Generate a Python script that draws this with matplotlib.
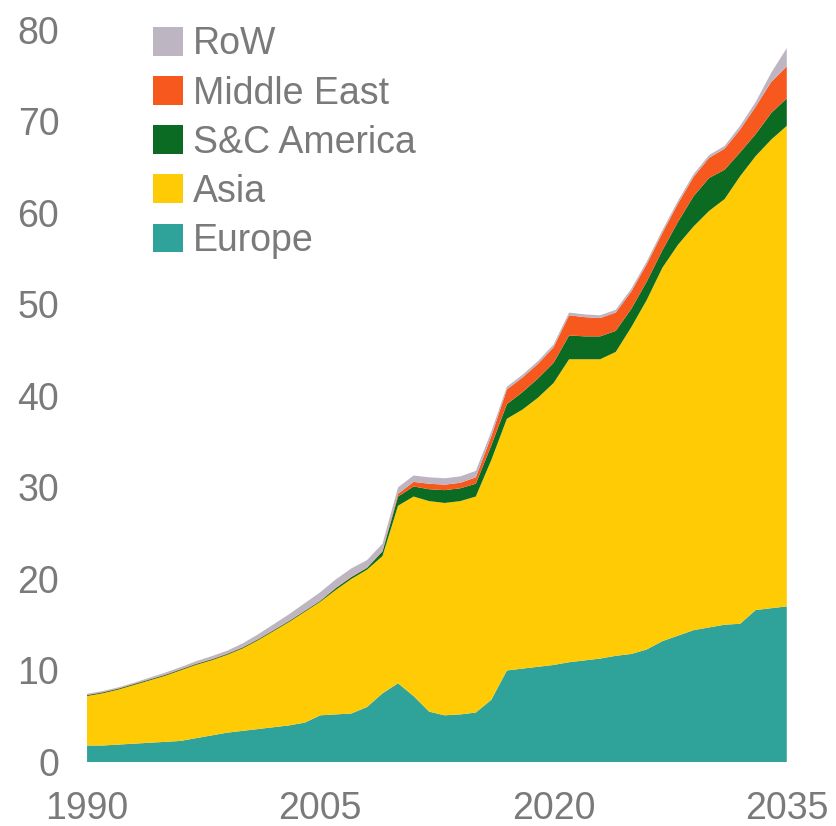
import matplotlib.pyplot as plt
import numpy as np

plt.rcParams['font.family'] = ['Liberation Sans', 'DejaVu Sans']

years = np.arange(1990, 2036)

# stacked values, bottom to top
europe = [1.8, 1.8, 1.9, 2.0, 2.1, 2.2, 2.3, 2.6, 2.9, 3.2,
          3.4, 3.6, 3.8, 4.0, 4.3, 5.1, 5.2, 5.3, 6.0, 7.5,
          8.6, 7.2, 5.5, 5.1, 5.2, 5.4, 6.8, 10.0, 10.2, 10.4,
          10.6, 10.9, 11.1, 11.3, 11.6, 11.8, 12.3, 13.2, 13.8, 14.4,
          14.7, 15.0, 15.1, 16.6, 16.8, 17.0]
asia_top = [7.2, 7.5, 7.9, 8.4, 8.9, 9.4, 10.0, 10.6, 11.1, 11.7,
            12.4, 13.3, 14.3, 15.3, 16.4, 17.5, 18.8, 20.0, 21.0, 22.5,
            28.0, 29.0, 28.5, 28.3, 28.5, 29.0, 33.0, 37.5, 38.5, 39.8,
            41.4, 44.0, 44.0, 44.0, 44.8, 47.5, 50.5, 54.0, 56.5, 58.5,
            60.2, 61.5, 64.0, 66.2, 68.0, 69.5]
asia = [t - e for t, e in zip(asia_top, europe)]
sc_america = [0.1] * 16 + [0.2, 0.2, 0.2, 0.5,
              1.0, 1.1, 1.3, 1.4, 1.4, 1.4, 1.6, 1.6, 1.9, 2.1,
              2.2, 2.6, 2.5, 2.5, 2.3, 2.0, 2.0, 1.9, 2.5, 3.3,
              3.6, 3.2, 2.6, 2.4, 2.9, 3.0]
middle_east = [0.05] * 20 + [0.3, 0.5, 0.6, 0.6, 0.6, 0.7, 1.0, 1.6, 1.6, 1.6,
                             1.7, 2.2, 2.1, 2.0, 2.0, 1.9, 1.9, 1.9, 2.0, 2.1,
                             2.2, 2.3, 2.5, 3.0, 3.4, 3.5]
row = [0.1, 0.1, 0.1, 0.1, 0.15, 0.2, 0.2, 0.25, 0.3, 0.3,
       0.4, 0.5, 0.6, 0.7, 0.8, 0.9, 0.9, 0.9, 0.8, 0.8,
       0.7, 0.7, 0.7, 0.7, 0.7, 0.7, 0.5, 0.3, 0.3, 0.3,
       0.3, 0.3, 0.3, 0.3, 0.3, 0.3, 0.3, 0.3, 0.3, 0.3,
       0.3, 0.3, 0.4, 0.5, 1.0, 2.0]

labels = ['Europe', 'Asia', 'S&C America', 'Middle East', 'RoW']
colors = ['#2fa39a', '#ffcb05', '#0b6b23', '#f7581e', '#bdb5c2']

xtick_years = [1990, 2005, 2020, 2035]
ytick_vals = [0, 10, 20, 30, 40, 50, 60, 70, 80]

fig = plt.figure(figsize=(8.37, 8.26), dpi=100)
ax = fig.add_axes([0.104, 0.0775, 0.836, 0.8865])

ax.stackplot(years, europe, asia, sc_america, middle_east, row,
             colors=colors, labels=labels, linewidth=0)

ax.set_xlim(1990, 2035)
ax.set_ylim(0, 80)
ax.set_xticks(xtick_years)
ax.set_yticks(ytick_vals)
for s in ax.spines.values():
    s.set_visible(False)
ax.tick_params(length=0, labelsize=27, colors='#7a7a7a')
ax.tick_params(axis='y', pad=20)
ax.tick_params(axis='x', pad=21)

handles, labs = ax.get_legend_handles_labels()
ax.legend(handles[::-1], labs[::-1], loc='upper left',
          bbox_to_anchor=(0.183, 0.968), bbox_transform=fig.transFigure,
          frameon=False, fontsize=27, labelcolor='#7a7a7a',
          handlelength=0.8, handleheight=0.8, handletextpad=0.25,
          labelspacing=0.35, borderpad=0, borderaxespad=0)

plt.savefig('out.png', dpi=100)
